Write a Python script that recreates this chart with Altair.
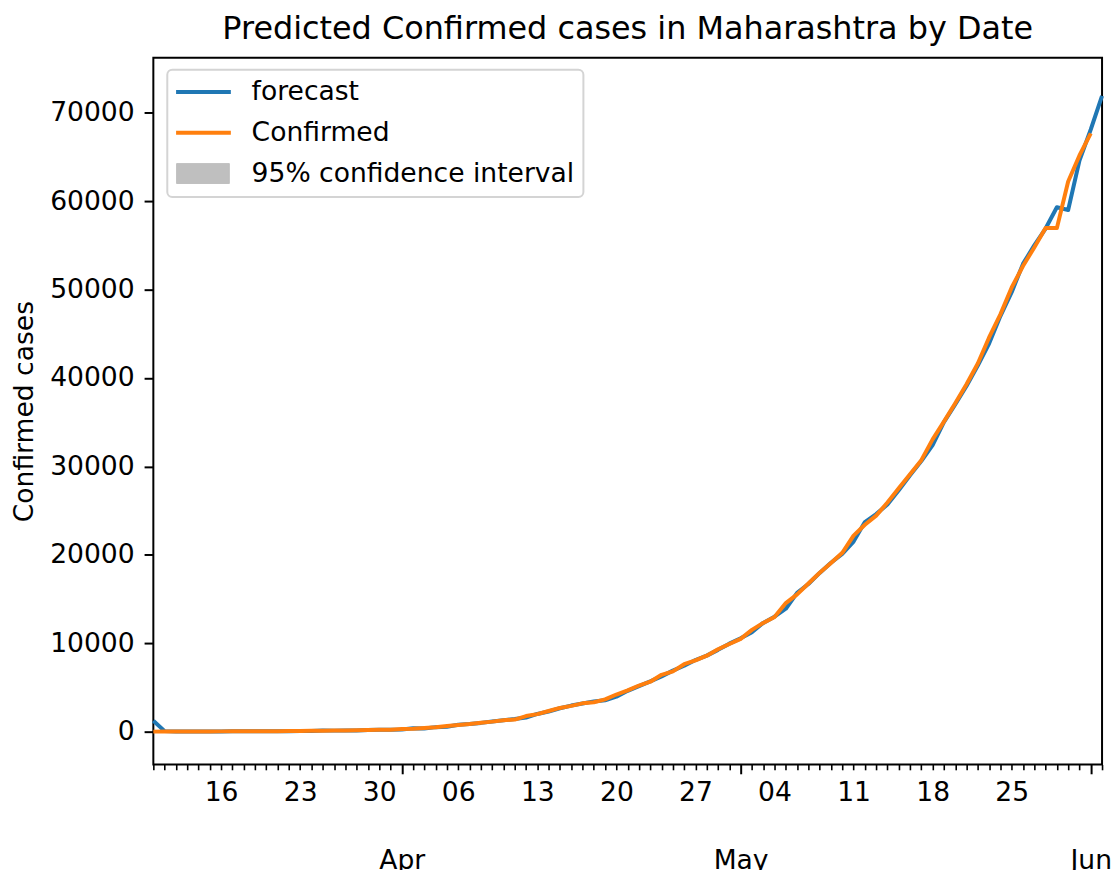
import altair as alt
import pandas as pd

# ---------------- data ----------------
start_date = "2020-03-10"

# Confirmed cases, daily from 2020-03-10 to 2020-06-01
confirmed = [
    2, 5, 11, 14, 17, 19, 32, 33, 41, 45,
    48, 52, 64, 74, 97, 107, 122, 130, 153, 186,
    203, 220, 302, 335, 423, 490, 635, 748, 868, 1018,
    1135, 1297, 1364, 1761, 1982, 2334, 2684, 2916, 3202, 3323,
    3648, 4200, 4666, 5218, 5652, 6427, 6817, 7628, 8068, 8590,
    9318, 9915, 10498, 11506, 12296, 12974, 14541, 15525, 16758, 17974,
    19063, 20228, 22171, 23401, 24427, 25922, 27524, 29100, 30706, 33053,
    35058, 37136, 39297, 41642, 44582, 47190, 50231, 52667, 54758, 56948,
    56948, 62228, 65168, 67655,
]

# Forecast, daily from 2020-03-10 to 2020-06-02
forecast = [
    1240, 60, 8, 16, 17, 20, 21, 44, 35, 48,
    49, 51, 56, 75, 84, 118, 117, 137, 138, 175,
    218, 220, 238, 380, 368, 510, 556, 780, 860, 990,
    1150, 1280, 1420, 1600, 2000, 2280, 2650, 2950, 3180, 3420,
    3550, 3950, 4620, 5150, 5680, 6250, 6900, 7450, 8100, 8600,
    9250, 9950, 10550, 11250, 12300, 13000, 13900, 15700, 16700, 17950,
    19100, 20100, 21500, 23700, 24600, 25700, 27300, 29000, 30600, 32400,
    35000, 37000, 39100, 41400, 43900, 47000, 49700, 52900, 55000, 56900,
    59300, 59000, 64600, 68100, 71900,
]

series_names = ["forecast", "Confirmed", "95% confidence interval"]
series_colors = ["#1f77b4", "#ff7f0e", "#bfbfbf"]
y_ticks = [0, 10000, 20000, 30000, 40000, 50000, 60000, 70000]
y_domain = [-3718, 76217]
chart_title = "Predicted Confirmed cases in Maharashtra by Date"
y_title = "Confirmed cases"

f_dates = pd.date_range(start_date, periods=len(forecast), freq="D").strftime("%Y-%m-%d")
c_dates = pd.date_range(start_date, periods=len(confirmed), freq="D").strftime("%Y-%m-%d")

df = pd.concat(
    [
        pd.DataFrame({"date": f_dates, "value": forecast, "series": "forecast"}),
        pd.DataFrame({"date": c_dates, "value": confirmed, "series": "Confirmed"}),
    ],
    ignore_index=True,
)

FONT = "DejaVu Sans"
FS = 26.7

x_domain = [
    alt.DateTime(year=2020, month=3, date=10, utc=True),
    alt.DateTime(year=2020, month=6, date=2, utc=True),
]

x_axis = alt.Axis(
    title=None,
    tickCount={"interval": "day", "step": 1},
    labelExpr=(
        "utcdate(datum.value) == 1 ? ['', '', utcFormat(datum.value, '%b')] : "
        "(utcday(datum.value) == 1 ? utcFormat(datum.value, '%d') : '')"
    ),
    labelFont=FONT,
    labelFontSize=FS,
    labelColor="black",
    labelPadding=10,
    labelLineHeight=64,
    labelOverlap=False,
    labelFlush=False,
    labelBound=False,
    tickColor="black",
    tickSize={"condition": {"test": "utcdate(datum.value) == 1", "value": 9.3}, "value": 5.3},
    tickWidth={"condition": {"test": "utcdate(datum.value) == 1", "value": 2}, "value": 1.6},
    domain=False,
    grid=False,
)

y_axis = alt.Axis(
    title=y_title,
    values=y_ticks,
    format="d",
    labelFont=FONT,
    labelFontSize=FS,
    labelColor="black",
    labelPadding=10,
    tickColor="black",
    tickSize=9.3,
    tickWidth=2,
    titleFont=FONT,
    titleFontSize=FS,
    titleFontWeight="normal",
    titleColor="black",
    titlePadding=11,
    domain=False,
    grid=False,
)

is_ci = "datum.value === '95% confidence interval'"
legend = alt.Legend(
    title=None,
    orient="none",
    legendX=14,
    legendY=12,
    symbolType=alt.ExprRef(f"{is_ci} ? 'M-2.6,-2H8V2H-2.6Z' : 'M-2.7,0H8.3'"),
    symbolSize=100,
    symbolStrokeWidth=alt.ExprRef(f"{is_ci} ? 1 : 4"),
    symbolFillColor=alt.ExprRef(f"{is_ci} ? '#bfbfbf' : 'transparent'"),
    symbolOpacity=1,
    labelFont=FONT,
    labelFontSize=FS,
    labelColor="black",
    labelOffset=49,
    labelLimit=0,
    rowPadding=13,
    padding=9,
    fillColor="white",
    strokeColor="#d4d4d4",
    cornerRadius=5,
)

color = alt.Color(
    "series:N",
    scale=alt.Scale(domain=series_names, range=series_colors),
    legend=legend,
)

base = alt.Chart(df).mark_line(strokeWidth=4, strokeJoin="round").encode(
    x=alt.X("date:T", scale=alt.Scale(type="utc", domain=x_domain, nice=False), axis=x_axis),
    y=alt.Y("value:Q", scale=alt.Scale(domain=y_domain, nice=False, zero=False), axis=y_axis),
    color=color,
)

forecast_line = base.transform_filter("datum.series === 'forecast'")
confirmed_line = base.transform_filter("datum.series === 'Confirmed'")

chart = (
    alt.layer(forecast_line, confirmed_line)
    .properties(
        width=953,
        height=710,
        background="white",
        title=alt.TitleParams(
            chart_title,
            font=FONT,
            fontSize=32,
            fontWeight="normal",
            color="black",
            anchor="middle",
            frame="group",
            baseline="bottom",
            offset=-20,
        ),
        autosize=alt.AutoSizeParams(type="none"),
        padding={"left": 146, "top": 48, "right": 10, "bottom": 104},
    )
    .configure_view(stroke="black", strokeWidth=2)
    .configure_legend(strokeWidth=2)
)

chart.save("out.html", embed_options={"renderer": "svg", "actions": False})
